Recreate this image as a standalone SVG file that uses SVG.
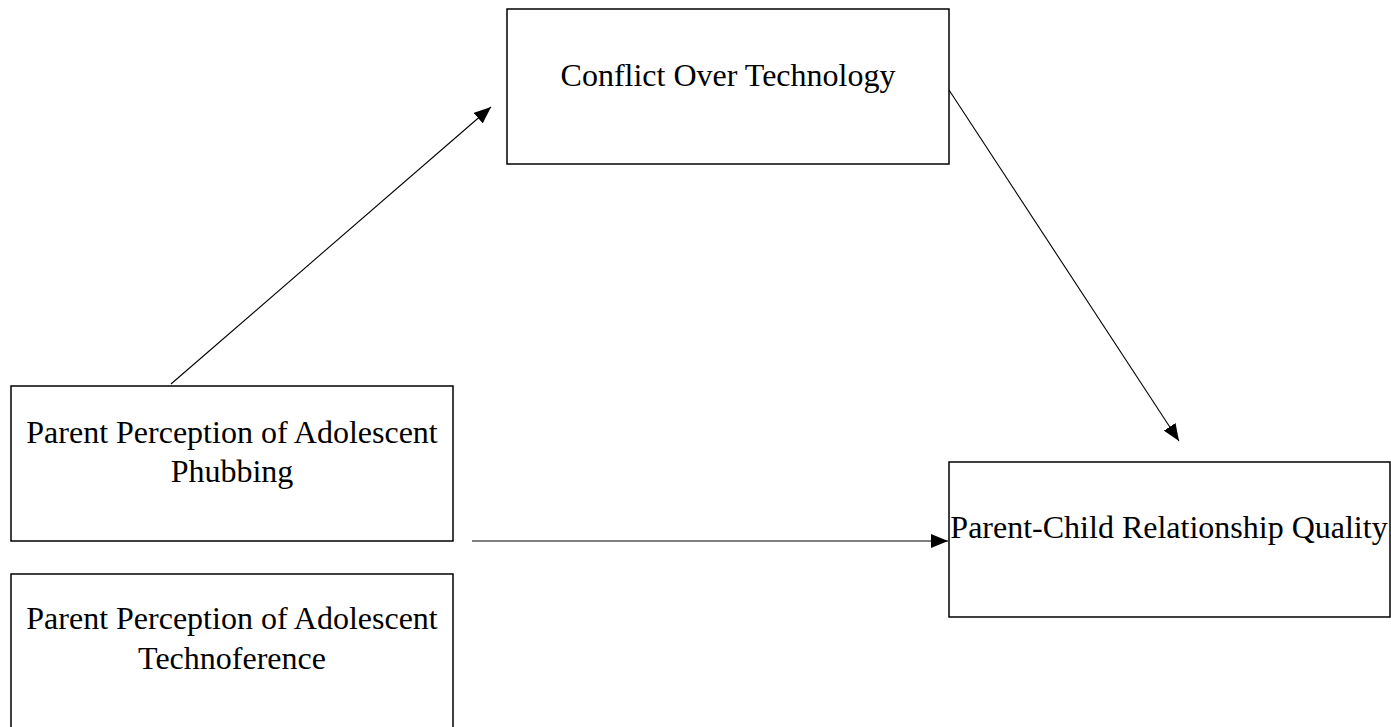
<svg xmlns="http://www.w3.org/2000/svg" width="1391" height="727" viewBox="0 0 1391 727">
<style>
.box{fill:#fff;stroke:#000;stroke-width:1.5}
.lbl{font-family:"Liberation Serif","Times New Roman",serif;font-size:32px;fill:#000;text-anchor:middle}
.con{stroke:#000;stroke-width:1.1;fill:none}
</style>
<defs>
<marker id="ah" markerWidth="18" markerHeight="14" refX="17" refY="7" orient="auto" markerUnits="userSpaceOnUse">
<path d="M0,0 L17,7 L0,14 Z" fill="#000"/>
</marker>
</defs>
<rect width="1391" height="727" fill="#fff"/>
<g id="conflict">
<rect class="box" x="507" y="9" width="442" height="155"/>
<text class="lbl" x="728" y="86">Conflict Over Technology</text>
</g>
<g id="phubbing">
<rect class="box" x="11" y="386" width="442" height="155"/>
<text class="lbl" x="232" y="443">Parent Perception of Adolescent</text>
<text class="lbl" x="232" y="482">Phubbing</text>
</g>
<g id="technoference">
<rect class="box" x="11" y="574" width="442" height="160"/>
<text class="lbl" x="232" y="629">Parent Perception of Adolescent</text>
<text class="lbl" x="232" y="669">Technoference</text>
</g>
<g id="pcrq">
<rect class="box" x="949" y="462" width="441" height="155"/>
<text class="lbl" x="1169" y="538">Parent-Child Relationship Quality</text>
</g>
<g id="connectors">
<line class="con" x1="171" y1="384" x2="491" y2="107" marker-end="url(#ah)"/>
<line class="con" x1="949" y1="90" x2="1179" y2="441" marker-end="url(#ah)"/>
<line class="con" x1="472" y1="541" x2="948" y2="541" marker-end="url(#ah)"/>
</g>
</svg>
